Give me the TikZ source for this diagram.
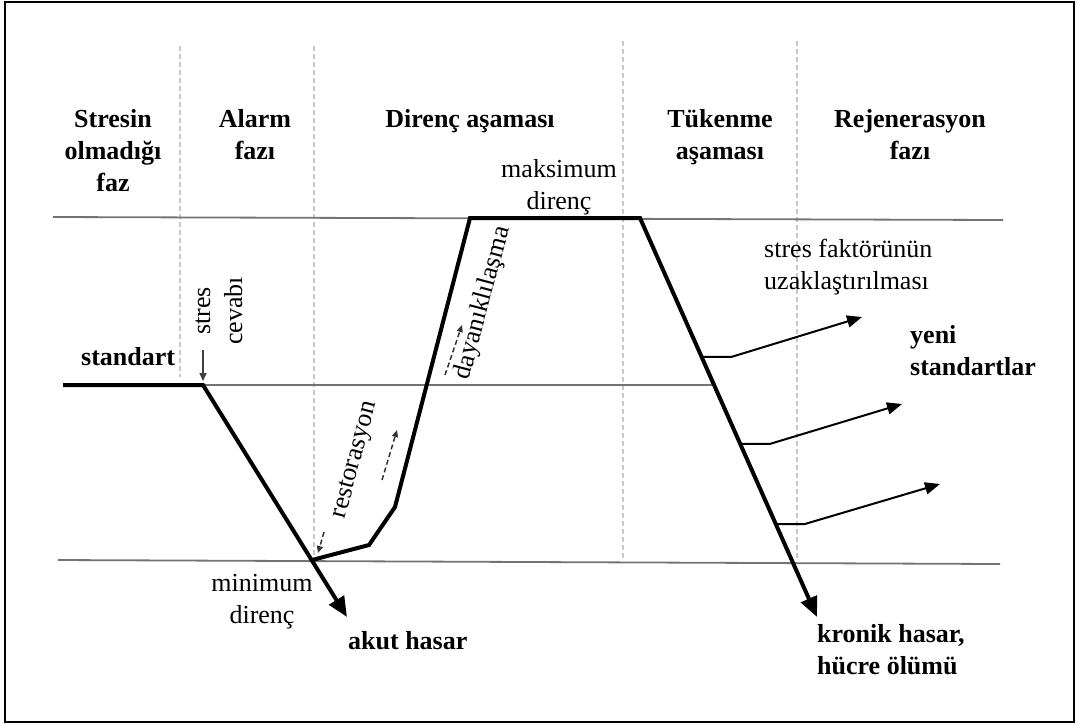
\documentclass[tikz,border=0pt]{standalone}
\usepackage{fontspec}
\setmainfont{Liberation Serif}
\usetikzlibrary{arrows.meta,calc}
\begin{document}
\begin{tikzpicture}[x=1pt,y=-1pt,
  txt/.style={inner sep=0pt,font=\fontsize{26}{32}\selectfont},
  btxt/.style={inner sep=0pt,font=\fontsize{26}{32}\selectfont\bfseries},
  guide/.style={black!22,line width=1.2pt,dash pattern=on 5pt off 3pt},
  level/.style={black!55,line width=1.8pt},
  thick/.style={black,line width=4pt,line join=miter},
  bigtip/.style={-{Triangle[length=20pt,width=17pt]}},
  regen/.style={black,line width=2pt,-{Triangle[length=15pt,width=12pt]}},
  smallarr/.style={black!75,line width=1.6pt,-{Triangle[length=8pt,width=7pt]}},
  dasharr/.style={black!80,line width=1.5pt,dash pattern=on 5pt off 3pt,-{Triangle[length=7pt,width=6pt]}}]
\useasboundingbox (0,0) rectangle (1078,724);
\draw[line width=2pt] (5,2) rectangle (1074,722);

% phase guide lines
\coordinate (g1a) at (180,46);  \coordinate (g1b) at (180,377);
\coordinate (g2a) at (314,46);  \coordinate (g2b) at (314,557);
\coordinate (g3a) at (623,41);  \coordinate (g3b) at (623,558);
\coordinate (g4a) at (797,41);  \coordinate (g4b) at (797,558);
\draw[guide] (g1a) -- (g1b);
\draw[guide] (g2a) -- (g2b);
\draw[guide] (g3a) -- (g3b);
\draw[guide] (g4a) -- (g4b);

% key points of the curve
\coordinate (s0) at (63,385);
\coordinate (s1) at (203,385);
\coordinate (ak) at (347,617);
\coordinate (m)  at (312,560);
\coordinate (r1) at (369,545);
\coordinate (r2) at (395,507);
\coordinate (mx0) at (470,218);
\coordinate (mx1) at (640,218);
\coordinate (kr) at (817,617);

% reference levels
\coordinate (t0) at (53,217);  \coordinate (t1) at (1003,220);
\coordinate (b0) at (58,560);  \coordinate (b1) at (1000,564);
\coordinate (mid) at ($(mx1)!0.4185!(kr)$);
\draw[level] (t0) -- (t1);
\draw[level] (b0) -- (b1);
\draw[level] (s1) -- (mid);

% main curve
\draw[thick,bigtip] (s0) -- (s1) -- (ak);
\draw[thick,bigtip] (m) -- (r1) -- (r2) -- (mx0) -- (mx1) -- (kr);

% regeneration arrows
\coordinate (p1) at ($(mx1)!0.348!(kr)$);
\coordinate (p2) at ($(mx1)!0.566!(kr)$);
\coordinate (p3) at ($(mx1)!0.767!(kr)$);
\coordinate (e1) at (862,317);
\coordinate (e2) at (902,404);
\coordinate (e3) at (940,484);
\draw[regen] (p1) -- ++(30,0) -- (e1);
\draw[regen] (p2) -- ++(30,0) -- (e2);
\draw[regen] (p3) -- ++(29,0) -- (e3);

% small arrows
\coordinate (sa0) at (203,350); \coordinate (sa1) at (203,381);
\draw[smallarr] (sa0) -- (sa1);
\coordinate (d1a) at (324,532); \coordinate (d1b) at (318,553);
\coordinate (d2a) at (382,480); \coordinate (d2b) at (397,430);
\coordinate (d3a) at (445,375); \coordinate (d3b) at (462,325);
\draw[dasharr] (d1a) -- (d1b);
\draw[dasharr] (d2a) -- (d2b);
\draw[dasharr] (d3a) -- (d3b);

% headers (base anchor = baseline of the last line)
\node[btxt,align=center,anchor=base] (h1) at (113,191) {Stresin\\olmadığı\\faz};
\node[btxt,align=center,anchor=base] (h2) at (255,159) {Alarm\\fazı};
\node[btxt,align=center,anchor=base] (h3) at (470,127) {Direnç aşaması};
\node[btxt,align=center,anchor=base] (h4) at (720,159) {Tükenme\\aşaması};
\node[btxt,align=center,anchor=base] (h5) at (910,159) {Rejenerasyon\\fazı};

% labels
\node[txt,align=center,anchor=base] (maks) at (559,209) {maksimum\\direnç};
\node[btxt,anchor=base west] (std) at (81,365) {standart};
\node[txt,align=center,rotate=90] (sc) at (219,311) {stres\\cevabı};
\node[txt,rotate=75] (rest) at (356,460) {restorasyon};
\node[txt,rotate=75] (day) at (483,303) {dayanıklılaşma};
\node[txt,align=center,anchor=base] (minr) at (262,623) {minimum\\direnç};
\node[btxt,anchor=base west] (akut) at (348,649) {akut hasar};
\node[txt,align=left,anchor=base west] (sfu) at (764,289) {stres faktörünün\\uzaklaştırılması};
\node[btxt,align=left,anchor=base west] (yeni) at (910,375) {yeni\\standartlar};
\node[btxt,align=left,anchor=base west] (kron) at (817,674) {kronik hasar,\\hücre ölümü};
\end{tikzpicture}
\end{document}
